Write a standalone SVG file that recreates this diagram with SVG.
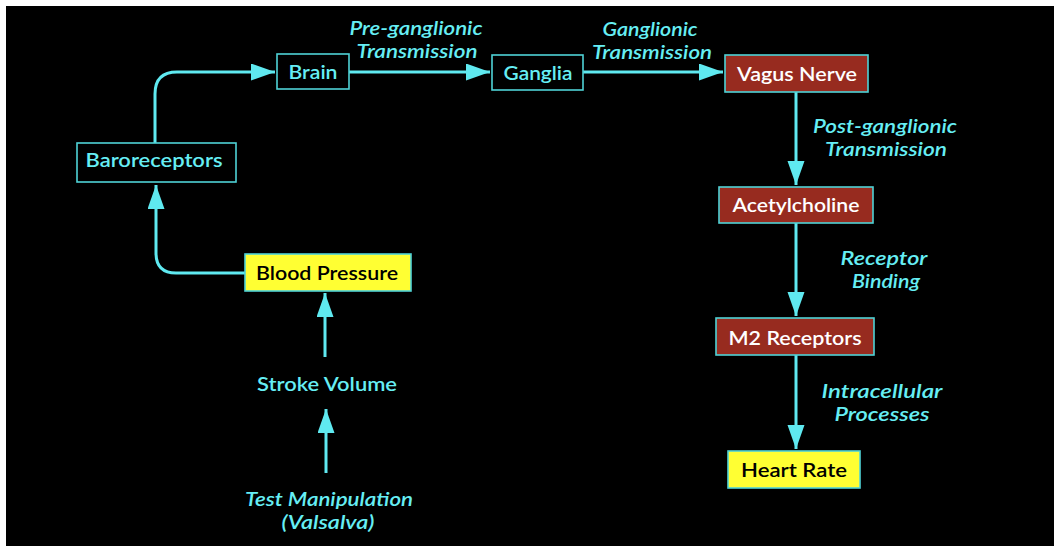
<svg xmlns="http://www.w3.org/2000/svg" width="1054" height="546" viewBox="0 0 1054 546">
<style>
.bg{fill:#000}
.box{stroke:#4fd3d6;stroke-width:1.6}
.cy{fill:none}
.red{fill:#972b1f}
.yel{fill:#ffff33}
.t{font-family:"Lato","Open Sans","DejaVu Sans",sans-serif;font-size:20px;font-weight:600;text-anchor:middle}
.tc{fill:#66eef4}
.tw{fill:#ffffff}
.tb{fill:#000}
.lbl{font-family:"Lato","Open Sans","DejaVu Sans",sans-serif;font-size:19px;font-weight:600;font-style:italic;text-anchor:middle;fill:#66eef4}
.conn{fill:none;stroke:#5fe9f0;stroke-width:3}
</style>
<defs>
<marker id="ah" markerUnits="userSpaceOnUse" markerWidth="26" markerHeight="18" refX="24" refY="8.5" orient="auto">
<path d="M0,0 L24,8.5 L0,17 z" fill="#5fe9f0"/>
</marker>
</defs>
<rect x="0" y="0" width="1054" height="546" fill="#fff"/>
<rect class="bg" x="6" y="6" width="1048" height="540"/>

<g id="connectors">
<path class="conn" d="M155,143 V94 Q155,72 177,72 H275" marker-end="url(#ah)"/>
<path class="conn" d="M349,72 H490" marker-end="url(#ah)"/>
<path class="conn" d="M583,72 H723" marker-end="url(#ah)"/>
<path class="conn" d="M796,92 V185" marker-end="url(#ah)"/>
<path class="conn" d="M796,223 V316" marker-end="url(#ah)"/>
<path class="conn" d="M796,355 V449" marker-end="url(#ah)"/>
<path class="conn" d="M245,273 H176 Q156,273 156,253 V185" marker-end="url(#ah)"/>
<path class="conn" d="M325,357 V293" marker-end="url(#ah)"/>
<path class="conn" d="M326,473 V409" marker-end="url(#ah)"/>
</g>

<g id="labels">
<text class="lbl" x="416" y="35" textLength="133" lengthAdjust="spacingAndGlyphs">Pre-ganglionic</text>
<text class="lbl" x="417" y="58" textLength="121" lengthAdjust="spacingAndGlyphs">Transmission</text>
<text class="lbl" x="650" y="36" textLength="95" lengthAdjust="spacingAndGlyphs">Ganglionic</text>
<text class="lbl" x="652" y="59" textLength="120" lengthAdjust="spacingAndGlyphs">Transmission</text>
<text class="lbl" x="885" y="133" textLength="144" lengthAdjust="spacingAndGlyphs">Post-ganglionic</text>
<text class="lbl" x="886" y="156" textLength="122" lengthAdjust="spacingAndGlyphs">Transmission</text>
<text class="lbl" x="884" y="265" textLength="87" lengthAdjust="spacingAndGlyphs">Receptor</text>
<text class="lbl" x="886" y="288" textLength="68" lengthAdjust="spacingAndGlyphs">Binding</text>
<text class="lbl" x="882" y="398" textLength="121" lengthAdjust="spacingAndGlyphs">Intracellular</text>
<text class="lbl" x="882" y="421" textLength="95" lengthAdjust="spacingAndGlyphs">Processes</text>
</g>

<g id="brain">
<rect class="box cy" x="277" y="54" width="72" height="35"/>
<text class="t tc" x="313" y="79" textLength="49" lengthAdjust="spacingAndGlyphs">Brain</text>
</g>
<g id="baroreceptors">
<rect class="box cy" x="77" y="143" width="159" height="39"/>
<text class="t tc" x="154" y="167" textLength="137" lengthAdjust="spacingAndGlyphs">Baroreceptors</text>
</g>
<g id="ganglia">
<rect class="box cy" x="492" y="55" width="91" height="35"/>
<text class="t tc" x="538" y="80" textLength="69" lengthAdjust="spacingAndGlyphs">Ganglia</text>
</g>
<g id="vagus">
<rect class="box red" x="725" y="55" width="143" height="37"/>
<text class="t tw" x="797" y="81" textLength="120" lengthAdjust="spacingAndGlyphs">Vagus Nerve</text>
</g>
<g id="acetylcholine">
<rect class="box red" x="719" y="187" width="154" height="36"/>
<text class="t tw" x="796" y="212" textLength="127" lengthAdjust="spacingAndGlyphs">Acetylcholine</text>
</g>
<g id="m2">
<rect class="box red" x="716" y="318" width="158" height="37"/>
<text class="t tw" x="795" y="345" textLength="133" lengthAdjust="spacingAndGlyphs">M2 Receptors</text>
</g>
<g id="heartrate">
<rect class="box yel" x="728" y="451" width="132" height="37"/>
<text class="t tb" x="794" y="477" textLength="106" lengthAdjust="spacingAndGlyphs">Heart Rate</text>
</g>
<g id="bloodpressure">
<rect class="box yel" x="245" y="254" width="166" height="37"/>
<text class="t tb" x="327" y="280" textLength="142" lengthAdjust="spacingAndGlyphs">Blood Pressure</text>
</g>
<g id="strokevolume">
<text class="t tc" x="327" y="391" textLength="140" lengthAdjust="spacingAndGlyphs">Stroke Volume</text>
</g>
<g id="testmanipulation">
<text class="lbl" x="329" y="506" textLength="168" lengthAdjust="spacingAndGlyphs">Test Manipulation</text>
<text class="lbl" x="328" y="529" textLength="93" lengthAdjust="spacingAndGlyphs">(Valsalva)</text>
</g>
</svg>
